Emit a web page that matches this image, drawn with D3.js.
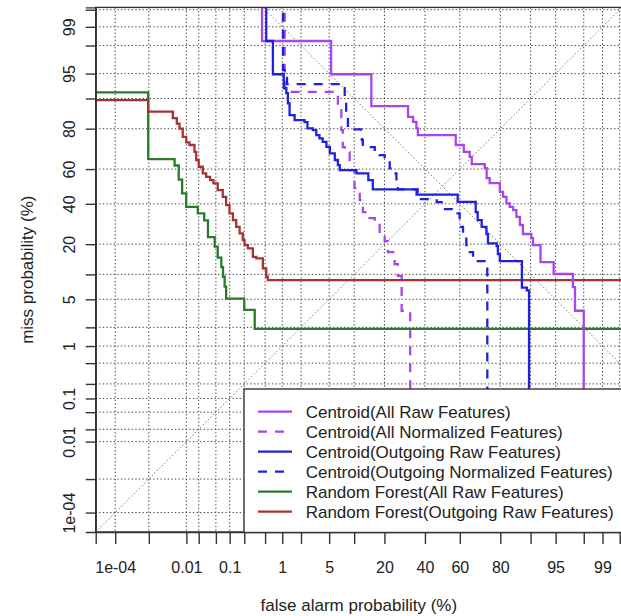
<!DOCTYPE html>
<html>
<head>
<meta charset="utf-8">
<script src="https://cdn.jsdelivr.net/npm/d3@7"></script>
<style>
  body { margin: 0; background: #fff; }
  svg { display: block; font-family: "Liberation Sans", Arial, sans-serif; }
</style>
</head>
<body>
<div id="det"></div>
<script>
// tick marks on both probability axes (%)
var tickPct = [1e-4, 0.001, 0.01, 0.02, 0.05, 0.1, 0.2, 0.5, 1, 2, 5, 10, 20, 40, 60, 80, 90, 95, 98, 99, 99.5];
var tickLabels = {"0.0001": "1e-04", "0.01": "0.01", "0.1": "0.1", "1": "1", "5": "5", "20": "20",
                  "40": "40", "60": "60", "80": "80", "95": "95", "99": "99"};

// series names and styles
var seriesNames = ["Centroid(All Raw Features)", "Centroid(All Normalized Features)",
                   "Centroid(Outgoing Raw Features)", "Centroid(Outgoing Normalized Features)",
                   "Random Forest(All Raw Features)", "Random Forest(Outgoing Raw Features)"];
var seriesColors = ["#a646ec", "#a646ec", "#1f22dc", "#1f22dc", "#2b7a2b", "#a83232"];
var seriesDash = [null, "9,8", null, "9,8", null, null];

// step points: false alarm % / miss %  (each point = where the curve drops)
var cAllRawFa   = [0.44, 0.44, 5.3, 15.1, 30.9, 33.5, 35.3, 36.1, 57.7, 62.2, 65.4, 66.5, 73.1, 74.0, 75.4, 79.8, 81.1, 82.4, 83.6, 84.8, 85.9, 87.0, 87.9, 90.2, 90.6, 92.3, 94.7, 97.1, 97.3, 98.0];
var cAllRawMiss = [99.999, 98.3, 94.9, 87.9, 84.5, 82.7, 80.1, 77.3, 72.7, 69.3, 66.7, 62.8, 60.5, 54.8, 51.9, 46.9, 44.0, 40.2, 38.3, 36.5, 32.9, 28.7, 24.4, 22.6, 19.6, 13.5, 10.1, 7.1, 3.5, 1e-6];

var cAllNormFa   = [1.1, 1.1, 6.45, 7.1, 7.4, 7.8, 8.9, 10.1, 11.5, 12.4, 14.1, 16.3, 18.1, 20.1, 21.4, 24.4, 25.9, 27.7, 32.0];
var cAllNormMiss = [99.999, 91.6, 86.7, 79.4, 71.7, 69.2, 59.4, 49.0, 42.1, 35.4, 32.2, 28.7, 24.4, 21.3, 16.9, 12.9, 9.6, 3.5, 1e-6];

var cOutRawFa   = [0.525, 0.525, 0.69, 1.06, 1.17, 1.24, 1.32, 1.59, 2.26, 2.5, 3.0, 3.35, 3.7, 4.1, 4.6, 5.1, 5.9, 6.45, 6.8, 10.6, 14.1, 15.6, 35.4, 58.8, 68.6, 69.6, 71.6, 73.9, 74.6, 78.5, 79.0, 79.8, 87.6, 89.0, 89.6];
var cOutRawMiss = [99.999, 98.3, 94.9, 92.4, 91.3, 88.7, 85.1, 83.3, 82.6, 80.1, 79.4, 77.3, 75.8, 74.2, 71.8, 68.5, 65.0, 62.2, 59.4, 57.5, 53.7, 48.3, 45.3, 41.1, 35.4, 31.2, 27.8, 24.4, 20.3, 19.2, 16.2, 13.8, 7.0, 6.5, 1e-6];

var cOutNormFa   = [1.03, 1.03, 1.2, 7.4, 7.8, 8.1, 8.5, 11.9, 12.1, 12.4, 16.3, 18.1, 20.1, 22.2, 23.6, 25.2, 25.9, 36.0, 46.7, 50.8, 55.4, 59.9, 61.8, 63.6, 65.4, 67.2, 74.3];
var cOutNormMiss = [99.999, 95.5, 93.2, 92.4, 89.6, 85.7, 79.7, 78.7, 75.0, 71.7, 69.3, 67.6, 65.0, 60.4, 57.5, 52.7, 48.3, 42.7, 41.0, 37.1, 34.7, 27.8, 24.7, 19.6, 16.9, 13.8, 1e-6];

var rfAllFa   = [1e-6, 0.00096, 0.005, 0.0064, 0.0078, 0.0099, 0.019, 0.027, 0.033, 0.047, 0.055, 0.066, 0.072, 0.078, 0.084, 0.20, 0.32, 99.9];
var rfAllMiss = [91.5, 65.5, 62.0, 54.0, 46.0, 38.3, 34.7, 31.0, 23.0, 19.0, 15.0, 12.0, 9.4, 7.2, 5.1, 3.6, 1.9, 1.9];

var rfOutFa   = [1e-6, 0.00096, 0.0045, 0.0057, 0.0067, 0.0081, 0.0099, 0.0119, 0.0158, 0.0174, 0.020, 0.025, 0.030, 0.037, 0.044, 0.055, 0.071, 0.084, 0.099, 0.117, 0.137, 0.161, 0.187, 0.203, 0.236, 0.295, 0.342, 0.455, 0.525, 0.56, 99.9];
var rfOutMiss = [89.6, 86.2, 84.0, 82.0, 80.0, 76.5, 74.0, 72.7, 69.3, 65.0, 61.3, 57.5, 55.6, 53.7, 51.8, 47.9, 44.0, 39.3, 34.7, 31.2, 27.8, 24.7, 21.7, 19.6, 18.3, 15.2, 14.7, 11.6, 9.4, 8.6, 8.6];

var seriesFa   = [cAllRawFa, cAllNormFa, cOutRawFa, cOutNormFa, rfAllFa, rfOutFa];
var seriesMiss = [cAllRawMiss, cAllNormMiss, cOutRawMiss, cOutNormMiss, rfAllMiss, rfOutMiss];

// inverse normal cdf (Acklam)
function qnorm(p) {
    var a = [-3.969683028665376e+01, 2.209460984245205e+02, -2.759285104469687e+02, 1.383577518672690e+02, -3.066479806614716e+01, 2.506628277459239e+00];
    var b = [-5.447609879822406e+01, 1.615858368580409e+02, -1.556989798598866e+02, 6.680131188771972e+01, -1.328068155288572e+01];
    var c = [-7.784894002430293e-03, -3.223964580411365e-01, -2.400758277161838e+00, -2.549732539343734e+00, 4.374664141464968e+00, 2.938163982698783e+00];
    var d = [7.784695709041462e-03, 3.224671290700398e-01, 2.445134137142996e+00, 3.754408661907416e+00];
    var plow = 0.02425, q, r;
    if (p < plow) {
        q = Math.sqrt(-2 * Math.log(p));
        return (((((c[0]*q+c[1])*q+c[2])*q+c[3])*q+c[4])*q+c[5]) / ((((d[0]*q+d[1])*q+d[2])*q+d[3])*q+1);
    }
    if (p <= 1 - plow) {
        q = p - 0.5; r = q * q;
        return (((((a[0]*r+a[1])*r+a[2])*r+a[3])*r+a[4])*r+a[5])*q / (((((b[0]*r+b[1])*r+b[2])*r+b[3])*r+b[4])*r+1);
    }
    q = Math.sqrt(-2 * Math.log(1 - p));
    return -(((((c[0]*q+c[1])*q+c[2])*q+c[3])*q+c[4])*q+c[5]) / ((((d[0]*q+d[1])*q+d[2])*q+d[3])*q+1);
}
var pz = function(pct) { return qnorm(pct / 100); };

var W = 621, H = 616;
var plotL = 95.7, plotR = 622, plotT = 7.4, plotB = 532;

// limits like R: range of the ticks + 4%
var lo = pz(1e-4), hi = pz(99), ext = (hi - lo) * 0.04;
var x = d3.scaleLinear().domain([lo - ext, hi + ext]).range([plotL, plotR]);
var y = d3.scaleLinear().domain([lo - ext, hi + ext]).range([plotB, plotT]);

var svg = d3.select("#det").append("svg")
    .attr("width", W).attr("height", H);

svg.append("defs").append("clipPath").attr("id", "plotclip")
    .append("rect").attr("x", plotL).attr("y", plotT)
    .attr("width", plotR - plotL).attr("height", plotB - plotT);

// grid
var grid = svg.append("g").attr("stroke", "#3c3c3c").attr("stroke-width", 1)
    .attr("stroke-dasharray", "1.3,2.3");
grid.selectAll(".gx").data(tickPct).enter().append("line")
    .attr("x1", function(d) { return x(pz(d)); }).attr("x2", function(d) { return x(pz(d)); })
    .attr("y1", plotT).attr("y2", plotB);
grid.selectAll(".gy").data(tickPct).enter().append("line")
    .attr("y1", function(d) { return y(pz(d)); }).attr("y2", function(d) { return y(pz(d)); })
    .attr("x1", plotL).attr("x2", plotR);

// diagonals
var dom = x.domain();
var diag = svg.append("g").attr("clip-path", "url(#plotclip)")
    .attr("stroke", "#666").attr("stroke-width", 1).attr("stroke-dasharray", "1.3,2.3");
diag.append("line").attr("x1", x(dom[0])).attr("y1", y(dom[0])).attr("x2", x(dom[1])).attr("y2", y(dom[1]));
diag.append("line").attr("x1", x(-dom[1])).attr("y1", y(dom[1])).attr("x2", x(dom[1])).attr("y2", y(-dom[1]));

// curves
var line = d3.line()
    .x(function(d) { return x(pz(d[0])); })
    .y(function(d) { return y(pz(d[1])); })
    .curve(d3.curveStepAfter);

var curves = svg.append("g").attr("clip-path", "url(#plotclip)");
[4, 5, 1, 3, 0, 2].forEach(function(i) {
    var pts = seriesFa[i].map(function(f, k) { return [f, seriesMiss[i][k]]; });
    curves.append("path")
        .attr("d", line(pts))
        .attr("fill", "none")
        .attr("stroke", seriesColors[i])
        .attr("stroke-width", 2.3)
        .attr("stroke-dasharray", seriesDash[i]);
});

// box
svg.append("rect").attr("x", plotL).attr("y", plotT)
    .attr("width", plotR - plotL).attr("height", plotB - plotT)
    .attr("fill", "none").attr("stroke", "#333").attr("stroke-width", 1.4);

// axes
var tickZ = tickPct.map(pz);
var fmt = function(z, i) { return tickLabels[String(tickPct[i])] || ""; };

var yAxis = svg.append("g")
    .attr("transform", "translate(" + plotL + ",0)")
    .call(d3.axisLeft(y).tickValues(tickZ).tickSize(10).tickFormat(fmt));
yAxis.selectAll("text")
    .attr("x", 0).attr("dy", 0).attr("y", -21)
    .attr("transform", "rotate(-90)")
    .attr("text-anchor", "middle");

var xAxis = svg.append("g")
    .attr("transform", "translate(0," + plotB + ")")
    .call(d3.axisBottom(x).tickValues(tickZ).tickSize(12).tickFormat(fmt));
xAxis.selectAll("text").attr("y", 41).attr("dy", 0);

[yAxis, xAxis].forEach(function(ax) {
    ax.select(".domain").attr("stroke", "#333").attr("stroke-width", 1.4);
    ax.selectAll(".tick line").attr("stroke", "#333").attr("stroke-width", 1.4);
    ax.selectAll("text").attr("fill", "#222")
        .style("font-size", "16px").style("font-family", "Liberation Sans, Arial, sans-serif");
});

// axis titles
svg.append("text")
    .attr("x", (plotL + plotR) / 2).attr("y", 611)
    .attr("text-anchor", "middle").attr("fill", "#222").style("font-size", "17px")
    .text("false alarm probability (%)");
svg.append("text")
    .attr("transform", "translate(33," + ((plotT + plotB) / 2) + ") rotate(-90)")
    .attr("text-anchor", "middle").attr("fill", "#222").style("font-size", "17px")
    .text("miss probability (%)");

// legend
var legend = svg.append("g").attr("transform", "translate(244,389)");
legend.append("rect").attr("x", 0).attr("y", 0).attr("width", 400).attr("height", 143.5)
    .attr("fill", "#fff").attr("stroke", "#333").attr("stroke-width", 1.4);
legend.selectAll("line.key").data(seriesNames).enter().append("line")
    .attr("x1", 14).attr("x2", 48)
    .attr("y1", function(d, i) { return 22.7 + i * 20; })
    .attr("y2", function(d, i) { return 22.7 + i * 20; })
    .attr("stroke", function(d, i) { return seriesColors[i]; })
    .attr("stroke-width", 2.3)
    .attr("stroke-dasharray", function(d, i) { return seriesDash[i]; });
legend.selectAll("text").data(seriesNames).enter().append("text")
    .attr("x", 61.7)
    .attr("y", function(d, i) { return 22.7 + i * 20; })
    .attr("dy", "0.35em")
    .attr("fill", "#222").style("font-size", "17px")
    .text(function(d) { return d; });
</script>
</body>
</html>
